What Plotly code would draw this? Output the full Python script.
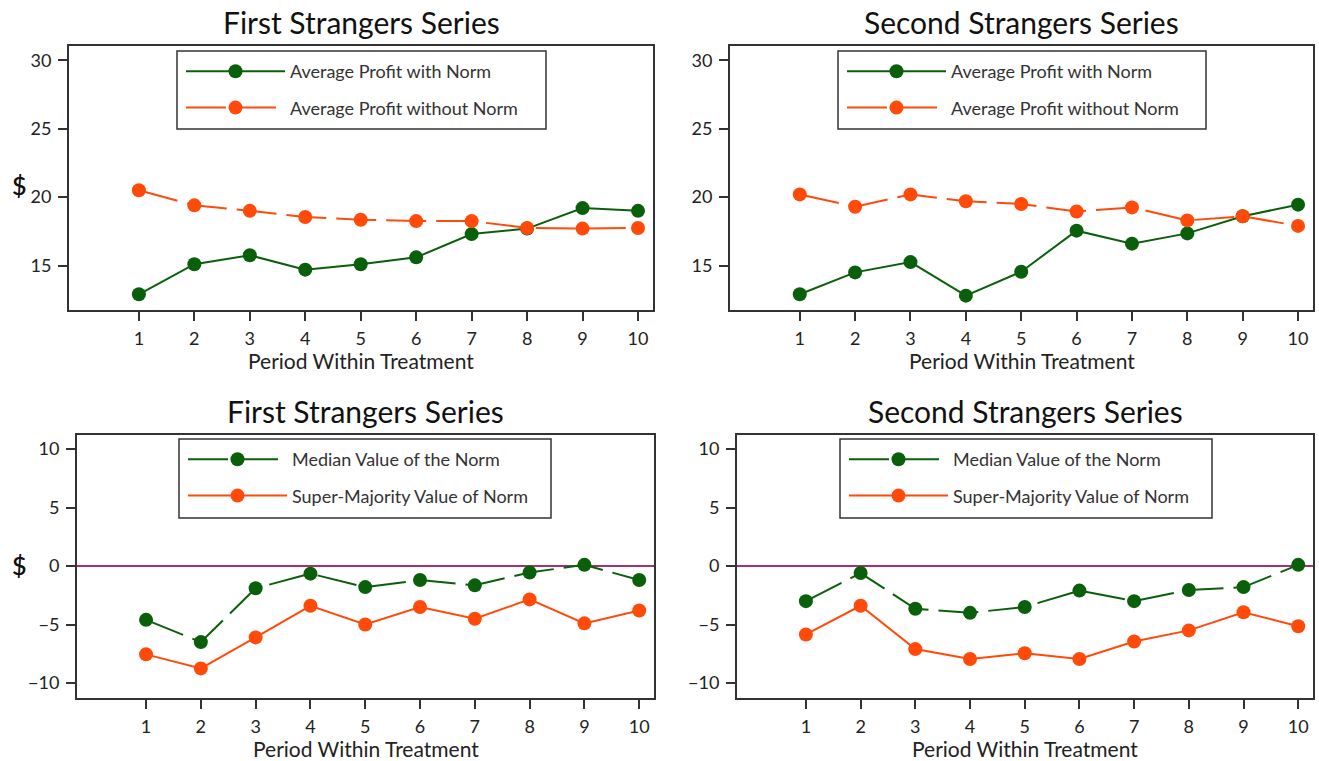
import plotly.graph_objects as go

periods = [1, 2, 3, 4, 5, 6, 7, 8, 9, 10]

# Top panels: average profit
first_with_norm = [12.9, 15.1, 15.75, 14.7, 15.1, 15.6, 17.3, 17.7, 19.2, 19.0]
first_without_norm = [20.5, 19.4, 19.0, 18.55, 18.35, 18.25, 18.25, 17.75, 17.7, 17.75]
second_with_norm = [12.9, 14.5, 15.25, 12.8, 14.55, 17.55, 16.6, 17.35, 18.6, 19.45]
second_without_norm = [20.2, 19.3, 20.2, 19.7, 19.5, 18.95, 19.25, 18.3, 18.6, 17.9]

# Bottom panels: norm values
first_median = [-4.6, -6.5, -1.9, -0.65, -1.8, -1.2, -1.65, -0.55, 0.1, -1.2]
first_supermaj = [-7.55, -8.75, -6.1, -3.4, -5.0, -3.5, -4.5, -2.85, -4.9, -3.8]
second_median = [-3.0, -0.6, -3.65, -4.0, -3.5, -2.1, -3.0, -2.05, -1.8, 0.1]
second_supermaj = [-5.85, -3.4, -7.1, -7.95, -7.45, -7.95, -6.45, -5.5, -3.95, -5.15]

titles = ["First Strangers Series", "Second Strangers Series",
          "First Strangers Series", "Second Strangers Series"]
x_title = "Period Within Treatment"
y_title = "$"
top_names = ["Average Profit with Norm", "Average Profit without Norm"]
bottom_names = ["Median Value of the Norm", "Super-Majority Value of Norm"]

GREEN = "#0a600a"
ORANGE = "#ff4a0a"
FRAME = "#333333"
ZERO = "#a8306e"
TXT = "#222222"
FONT = "Lato"

# body margin is removed by the post script, so the figure fills the window
W, H = 1319, 761


def px_x(p):
    return p / W


def px_y(p):
    return 1 - p / H


# panel frames in window pixels (left, right, top, bottom)
panels = [
    (69, 653, 46, 310),
    (730, 1313, 46, 310),
    (77, 654, 435, 698),
    (737, 1313, 435, 698),
]
# legend boxes in window pixels (left, right, top, bottom)
boxes = [
    (177, 546, 51, 129),
    (838, 1206, 51, 129),
    (179, 551, 439, 518),
    (840, 1212, 439, 518),
]

fig = go.Figure()

dash = "40px,10px"
data = [
    (first_with_norm, first_without_norm, top_names, ("solid", dash)),
    (second_with_norm, second_without_norm, top_names, ("solid", dash)),
    (first_median, first_supermaj, bottom_names, (dash, "solid")),
    (second_median, second_supermaj, bottom_names, (dash, "solid")),
]

for i, (g, o, names, dashes) in enumerate(data):
    ax = "" if i == 0 else str(i + 1)
    leg = "legend" if i == 0 else f"legend{i + 1}"
    for vals, name, col, d, grp in [(g, names[0], GREEN, dashes[0], "a"),
                                    (o, names[1], ORANGE, dashes[1], "b")]:
        fig.add_trace(go.Scatter(
            x=periods, y=vals, name=name, mode="lines+markers",
            line=dict(color=col, width=2, dash=d),
            marker=dict(color=col, size=14),
            xaxis="x" + ax, yaxis="y" + ax, legend=leg,
            legendgroup=f"{i}{grp}",
        ))

layout = dict(
    width=W, height=H,
    margin=dict(l=0, r=0, t=0, b=0, autoexpand=False),
    paper_bgcolor="white", plot_bgcolor="white",
    font=dict(family=FONT, color=TXT),
    showlegend=True,
)

annotations = []
shapes = []
for i, (l, r, t, b) in enumerate(panels):
    ax = "" if i == 0 else str(i + 1)
    top = i < 2
    layout["xaxis" + ax] = dict(
        domain=[px_x(l), px_x(r)], range=[-0.26, 10.27],
        anchor="y" + ax, tickvals=periods, ticktext=[str(p) for p in periods],
        ticks="outside", ticklen=9, tickwidth=1.5, tickcolor=FRAME,
        showline=True, linecolor=FRAME, linewidth=2, mirror=True,
        showgrid=False, zeroline=False, ticklabelstandoff=2,
        tickfont=dict(size=18, family=FONT, color=TXT),
    )
    layout["yaxis" + ax] = dict(
        domain=[px_y(b), px_y(t)],
        range=[11.75, 31.05] if top else [-11.28, 11.2],
        tickvals=[15, 20, 25, 30] if top else [-10, -5, 0, 5, 10],
        anchor="x" + ax,
        ticks="outside", ticklen=9, tickwidth=1.5, tickcolor=FRAME,
        showline=True, linecolor=FRAME, linewidth=2, mirror=True,
        showgrid=False, zeroline=False, ticklabelstandoff=3,
        tickfont=dict(size=18, family=FONT, color=TXT),
    )
    if not top:
        shapes.append(dict(type="line", xref="x" + ax + " domain", yref="y" + ax,
                           x0=0, x1=1, y0=0, y1=0,
                           line=dict(color=ZERO, width=2), layer="below"))
    cx = (l + r) / 2
    # panel title
    annotations.append(dict(
        text=titles[i], xref="paper", yref="paper",
        x=px_x(cx), y=px_y(22 if top else 411), xanchor="center", yanchor="middle",
        showarrow=False, font=dict(size=30, family=FONT, color="#111111"),
    ))
    # x axis title
    annotations.append(dict(
        text=x_title, xref="paper", yref="paper",
        x=px_x(cx), y=px_y(360 if top else 748), xanchor="center", yanchor="middle",
        showarrow=False, font=dict(size=21, family=FONT, color=TXT),
    ))
    # y axis title
    annotations.append(dict(
        text=y_title, xref="paper", yref="paper",
        x=px_x(19), y=px_y(185 if top else 565), xanchor="center", yanchor="middle",
        showarrow=False, font=dict(size=25, family=FONT, color="#111111"),
    ))
    # legend frame
    bl, br, bt, bb = boxes[i]
    shapes.append(dict(type="rect", xref="paper", yref="paper",
                       x0=px_x(bl), x1=px_x(br), y0=px_y(bb), y1=px_y(bt),
                       line=dict(color=FRAME, width=1.5), fillcolor="white",
                       layer="above"))
    leg = "legend" if i == 0 else f"legend{i + 1}"
    layout[leg] = dict(
        x=px_x(bl + 4), y=px_y(bt + 2), xanchor="left", yanchor="top",
        xref="paper", yref="paper",
        borderwidth=0, bgcolor="rgba(0,0,0,0)",
        font=dict(size=18, family=FONT, color="#333333"),
        itemwidth=99, tracegroupgap=10,
    )

layout["annotations"] = annotations
layout["shapes"] = shapes
fig.update_layout(**layout)

fig.write_html("out.html", config={"displayModeBar": False},
               post_script="document.body.style.margin='0px';document.body.style.overflow='hidden';")
